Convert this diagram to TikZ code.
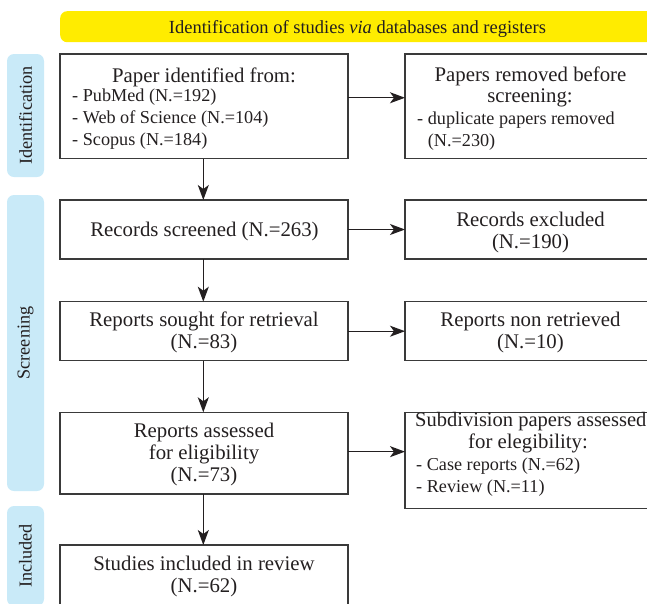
\documentclass[tikz,border=0pt]{standalone}
\usepackage{fontspec}
\setmainfont{Liberation Serif}
\usetikzlibrary{arrows.meta}
\definecolor{banner}{HTML}{FFEC00}
\definecolor{sideblue}{HTML}{C9EAF8}
\definecolor{edge}{HTML}{3A3A3A}
\definecolor{ink}{HTML}{231F20}
\begin{document}
\begin{tikzpicture}[x=1pt,y=-1pt,
  box/.style={draw=edge,line width=1.3pt,inner sep=0pt,outer sep=0pt,anchor=north west},
  side/.style={fill=sideblue,rounded corners=7pt,inner sep=0pt,outer sep=0pt,anchor=north west,minimum width=37pt},
  big/.style={font=\fontsize{20.8}{22}\selectfont,text=ink,inner sep=0pt,anchor=base},
  small/.style={font=\fontsize{18.2}{22}\selectfont,text=ink,inner sep=0pt,anchor=base west},
  sidetxt/.style={font=\fontsize{18.2}{22}\selectfont,text=ink,inner sep=0pt,rotate=90},
  arr/.style={draw=ink,line width=1.3pt,-{Stealth[length=15pt,width=11pt,inset=4pt]}}]
\useasboundingbox (0,0) rectangle (647,603);
\clip (0,0) rectangle (647,603);
% banner
\node[fill=banner,rounded corners=7pt,inner sep=0pt,anchor=north west,minimum width=600pt,minimum height=31pt] (ban) at (60,11) {};
\node[font=\fontsize{18.5}{22}\selectfont,text=ink,inner sep=0pt,anchor=base] (bantxt) at (357.5,33.3) {Identification of studies \textit{via} databases and registers};
% side labels
\node[side,minimum height=123pt] (s1) at (7,54) {};
\node[sidetxt] (s1t) at (s1.center) {Identification};
\node[side,minimum height=296pt] (s2) at (7,195) {};
\node[sidetxt] (s2t) at (s2.center) {Screening};
\node[side,minimum height=100pt] (s3) at (7,506) {};
\node[sidetxt] (s3t) at (s3.center) {Included};
% left boxes
\node[box,minimum width=288pt,minimum height=104.7pt] (b1) at (60,54) {};
\node[box,minimum width=288pt,minimum height=59pt] (b2) at (60,200) {};
\node[box,minimum width=288pt,minimum height=59pt] (b3) at (60,301.7) {};
\node[box,minimum width=288pt,minimum height=81.7pt] (b4) at (60,412.3) {};
\node[box,minimum width=288pt,minimum height=80pt] (b5) at (60,545) {};
% right boxes
\node[box,minimum width=255pt,minimum height=104.7pt] (r1) at (405,54) {};
\node[box,minimum width=255pt,minimum height=59pt] (r2) at (405,200) {};
\node[box,minimum width=255pt,minimum height=59pt] (r3) at (405,301.7) {};
\node[box,minimum width=255pt,minimum height=96pt] (r4) at (405,412.3) {};
% texts left
\node[big] (t1) at (204,82) {Paper identified from:};
\node[small] (t1a) at (72,101.7) {- PubMed (N.=192)};
\node[small] (t1b) at (72,123.7) {- Web of Science (N.=104)};
\node[small] (t1c) at (72,145.5) {- Scopus (N.=184)};
\node[big] (t2) at (204.5,236.7) {Records screened (N.=263)};
\node[big] (t3a) at (204,326.7) {Reports sought for retrieval};
\node[big] (t3b) at (204,348.3) {(N.=83)};
\node[big] (t4a) at (204,437.7) {Reports assessed};
\node[big] (t4b) at (204,459.5) {for eligibility};
\node[big] (t4c) at (204,481.5) {(N.=73)};
\node[big] (t5a) at (204,570.7) {Studies included in review};
\node[big] (t5b) at (204,592.3) {(N.=62)};
% texts right
\node[big] (u1a) at (530.5,81) {Papers removed before};
\node[big] (u1b) at (530,102.7) {screening:};
\node[small] (u1c) at (417,124.3) {- duplicate papers removed};
\node[small] (u1d) at (427.7,146.5) {(N.=230)};
\node[big] (u2a) at (530.5,226) {Records excluded};
\node[big] (u2b) at (530.5,248.3) {(N.=190)};
\node[big] (u3a) at (530.5,326.7) {Reports non retrieved};
\node[big] (u3b) at (530.5,348.8) {(N.=10)};
\node[small,font=\fontsize{20.5}{22}\selectfont] (u4a) at (415,426.7) {Subdivision papers assessed};
\node[big] (u4b) at (528,448.3) {for elegibility:};
\node[small] (u4c) at (416,470) {- Case reports (N.=62)};
\node[small] (u4d) at (416,492.3) {- Review (N.=11)};
% vertical arrows
\draw[arr] ([xshift=-0.7pt]b1.south) -- ([xshift=-0.7pt]b2.north);
\draw[arr] ([xshift=-0.7pt]b2.south) -- ([xshift=-0.7pt]b3.north);
\draw[arr] ([xshift=-0.7pt]b3.south) -- ([xshift=-0.7pt]b4.north);
\draw[arr] ([xshift=-0.7pt]b4.south) -- ([xshift=-0.7pt]b5.north);
% horizontal arrows
\draw[arr] ([yshift=8.6pt]b1.east) -- ([yshift=8.6pt]b1.east -| r1.west);
\draw[arr] (b2.east) -- (b2.east -| r2.west);
\draw[arr] (b3.east) -- (b3.east -| r3.west);
\draw[arr] ([yshift=1.5pt]b4.east) -- ([yshift=1.5pt]b4.east -| r4.west);
\end{tikzpicture}
\end{document}
